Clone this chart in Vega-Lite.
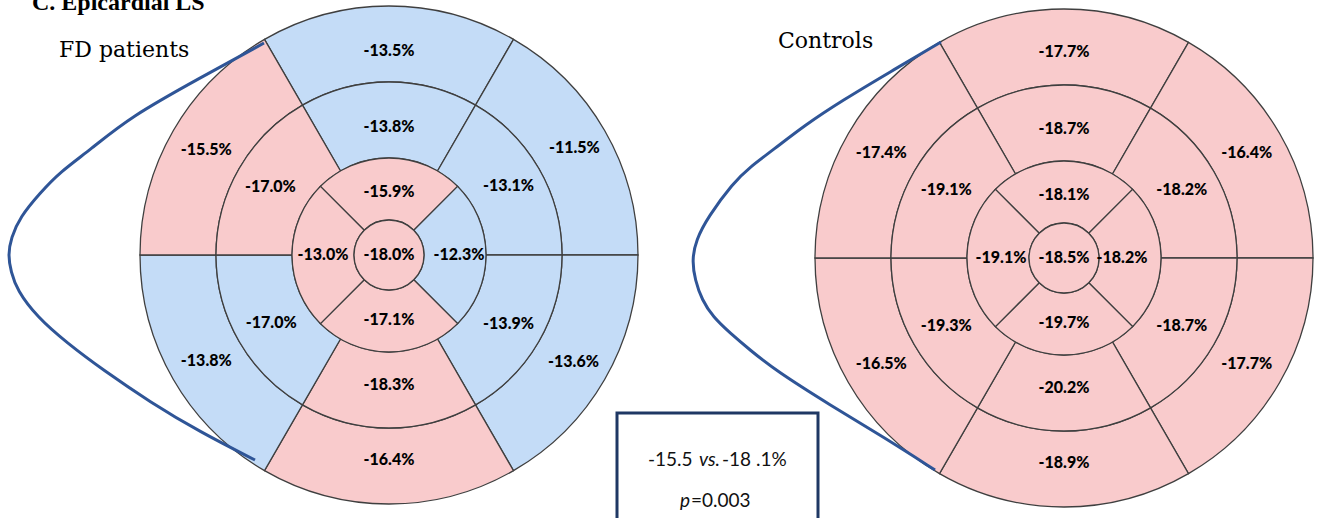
{
  "$schema": "https://vega.github.io/schema/vega-lite/v6.json",
  "width": 1322,
  "height": 518,
  "autosize": {"type": "fit", "contains": "padding"},
  "padding": 0,
  "background": "white",
  "config": {"view": {"stroke": null}},
  "datasets": {
    "seg": [
      {"chart": "FD", "cx": 389, "cy": 255, "t1": -30, "t2": 30, "tm": 0, "r1": 173, "r2": 249, "rm": 204, "label": "-13.5%", "cat": "reduced"},
      {"chart": "FD", "cx": 389, "cy": 255, "t1": 30, "t2": 90, "tm": 60, "r1": 173, "r2": 249, "rm": 214, "label": "-11.5%", "cat": "reduced"},
      {"chart": "FD", "cx": 389, "cy": 255, "t1": 90, "t2": 150, "tm": 120, "r1": 173, "r2": 249, "rm": 213, "label": "-13.6%", "cat": "reduced"},
      {"chart": "FD", "cx": 389, "cy": 255, "t1": 150, "t2": 210, "tm": 180, "r1": 173, "r2": 249, "rm": 205, "label": "-16.4%", "cat": "normal"},
      {"chart": "FD", "cx": 389, "cy": 255, "t1": 210, "t2": 270, "tm": 240, "r1": 173, "r2": 249, "rm": 211, "label": "-13.8%", "cat": "reduced"},
      {"chart": "FD", "cx": 389, "cy": 255, "t1": 270, "t2": 330, "tm": 300, "r1": 173, "r2": 249, "rm": 211, "label": "-15.5%", "cat": "normal"},
      {"chart": "FD", "cx": 389, "cy": 255, "t1": -30, "t2": 30, "tm": 0, "r1": 97, "r2": 173, "rm": 128, "label": "-13.8%", "cat": "reduced"},
      {"chart": "FD", "cx": 389, "cy": 255, "t1": 30, "t2": 90, "tm": 60, "r1": 97, "r2": 173, "rm": 138, "label": "-13.1%", "cat": "reduced"},
      {"chart": "FD", "cx": 389, "cy": 255, "t1": 90, "t2": 150, "tm": 120, "r1": 97, "r2": 173, "rm": 138, "label": "-13.9%", "cat": "reduced"},
      {"chart": "FD", "cx": 389, "cy": 255, "t1": 150, "t2": 210, "tm": 180, "r1": 97, "r2": 173, "rm": 130, "label": "-18.3%", "cat": "normal"},
      {"chart": "FD", "cx": 389, "cy": 255, "t1": 210, "t2": 270, "tm": 240, "r1": 97, "r2": 173, "rm": 136, "label": "-17.0%", "cat": "reduced"},
      {"chart": "FD", "cx": 389, "cy": 255, "t1": 270, "t2": 330, "tm": 300, "r1": 97, "r2": 173, "rm": 137, "label": "-17.0%", "cat": "normal"},
      {"chart": "FD", "cx": 389, "cy": 255, "t1": -45, "t2": 45, "tm": 0, "r1": 35, "r2": 97, "rm": 63, "label": "-15.9%", "cat": "normal"},
      {"chart": "FD", "cx": 389, "cy": 255, "t1": 45, "t2": 135, "tm": 90, "r1": 35, "r2": 97, "rm": 70, "label": "-12.3%", "cat": "reduced"},
      {"chart": "FD", "cx": 389, "cy": 255, "t1": 135, "t2": 225, "tm": 180, "r1": 35, "r2": 97, "rm": 65, "label": "-17.1%", "cat": "normal"},
      {"chart": "FD", "cx": 389, "cy": 255, "t1": 225, "t2": 315, "tm": 270, "r1": 35, "r2": 97, "rm": 66, "label": "-13.0%", "cat": "normal"},
      {"chart": "FD", "cx": 389, "cy": 255, "t1": 0, "t2": 360, "tm": 0, "r1": 0, "r2": 35, "rm": 0, "label": "-18.0%", "cat": "normal"},
      {"chart": "Controls", "cx": 1064, "cy": 258, "t1": -30, "t2": 30, "tm": 0, "r1": 173, "r2": 249, "rm": 206, "label": "-17.7%", "cat": "normal"},
      {"chart": "Controls", "cx": 1064, "cy": 258, "t1": 30, "t2": 90, "tm": 60, "r1": 173, "r2": 249, "rm": 211, "label": "-16.4%", "cat": "normal"},
      {"chart": "Controls", "cx": 1064, "cy": 258, "t1": 90, "t2": 150, "tm": 120, "r1": 173, "r2": 249, "rm": 211, "label": "-17.7%", "cat": "normal"},
      {"chart": "Controls", "cx": 1064, "cy": 258, "t1": 150, "t2": 210, "tm": 180, "r1": 173, "r2": 249, "rm": 205, "label": "-18.9%", "cat": "normal"},
      {"chart": "Controls", "cx": 1064, "cy": 258, "t1": 210, "t2": 270, "tm": 240, "r1": 173, "r2": 249, "rm": 211, "label": "-16.5%", "cat": "normal"},
      {"chart": "Controls", "cx": 1064, "cy": 258, "t1": 270, "t2": 330, "tm": 300, "r1": 173, "r2": 249, "rm": 211, "label": "-17.4%", "cat": "normal"},
      {"chart": "Controls", "cx": 1064, "cy": 258, "t1": -30, "t2": 30, "tm": 0, "r1": 97, "r2": 173, "rm": 129, "label": "-18.7%", "cat": "normal"},
      {"chart": "Controls", "cx": 1064, "cy": 258, "t1": 30, "t2": 90, "tm": 60, "r1": 97, "r2": 173, "rm": 136, "label": "-18.2%", "cat": "normal"},
      {"chart": "Controls", "cx": 1064, "cy": 258, "t1": 90, "t2": 150, "tm": 120, "r1": 97, "r2": 173, "rm": 136, "label": "-18.7%", "cat": "normal"},
      {"chart": "Controls", "cx": 1064, "cy": 258, "t1": 150, "t2": 210, "tm": 180, "r1": 97, "r2": 173, "rm": 130, "label": "-20.2%", "cat": "normal"},
      {"chart": "Controls", "cx": 1064, "cy": 258, "t1": 210, "t2": 270, "tm": 240, "r1": 97, "r2": 173, "rm": 136, "label": "-19.3%", "cat": "normal"},
      {"chart": "Controls", "cx": 1064, "cy": 258, "t1": 270, "t2": 330, "tm": 300, "r1": 97, "r2": 173, "rm": 136, "label": "-19.1%", "cat": "normal"},
      {"chart": "Controls", "cx": 1064, "cy": 258, "t1": -45, "t2": 45, "tm": 0, "r1": 35, "r2": 97, "rm": 63, "label": "-18.1%", "cat": "normal"},
      {"chart": "Controls", "cx": 1064, "cy": 258, "t1": 45, "t2": 135, "tm": 90, "r1": 35, "r2": 97, "rm": 58, "label": "-18.2%", "cat": "normal"},
      {"chart": "Controls", "cx": 1064, "cy": 258, "t1": 135, "t2": 225, "tm": 180, "r1": 35, "r2": 97, "rm": 65, "label": "-19.7%", "cat": "normal"},
      {"chart": "Controls", "cx": 1064, "cy": 258, "t1": 225, "t2": 315, "tm": 270, "r1": 35, "r2": 97, "rm": 63, "label": "-19.1%", "cat": "normal"},
      {"chart": "Controls", "cx": 1064, "cy": 258, "t1": 0, "t2": 360, "tm": 0, "r1": 0, "r2": 35, "rm": 0, "label": "-18.5%", "cat": "normal"}
    ],
    "curve": [
      {"chart": "FD", "i": 0, "px": 264, "py": 43},
      {"chart": "FD", "i": 1, "px": 200, "py": 78},
      {"chart": "FD", "i": 2, "px": 130, "py": 117},
      {"chart": "FD", "i": 3, "px": 90, "py": 150},
      {"chart": "FD", "i": 4, "px": 60, "py": 172},
      {"chart": "FD", "i": 5, "px": 40, "py": 193},
      {"chart": "FD", "i": 6, "px": 20, "py": 217},
      {"chart": "FD", "i": 7, "px": 11, "py": 238},
      {"chart": "FD", "i": 8, "px": 8, "py": 255},
      {"chart": "FD", "i": 9, "px": 11, "py": 272},
      {"chart": "FD", "i": 10, "px": 17, "py": 290},
      {"chart": "FD", "i": 11, "px": 37, "py": 317},
      {"chart": "FD", "i": 12, "px": 67, "py": 343},
      {"chart": "FD", "i": 13, "px": 103, "py": 370},
      {"chart": "FD", "i": 14, "px": 150, "py": 402},
      {"chart": "FD", "i": 15, "px": 200, "py": 432},
      {"chart": "FD", "i": 16, "px": 255, "py": 460},
      {"chart": "Controls", "i": 0, "px": 941, "py": 42},
      {"chart": "Controls", "i": 1, "px": 890, "py": 72},
      {"chart": "Controls", "i": 2, "px": 843, "py": 100},
      {"chart": "Controls", "i": 3, "px": 805, "py": 125},
      {"chart": "Controls", "i": 4, "px": 773, "py": 150},
      {"chart": "Controls", "i": 5, "px": 750, "py": 167},
      {"chart": "Controls", "i": 6, "px": 733, "py": 183},
      {"chart": "Controls", "i": 7, "px": 708, "py": 217},
      {"chart": "Controls", "i": 8, "px": 696, "py": 240},
      {"chart": "Controls", "i": 9, "px": 692, "py": 260},
      {"chart": "Controls", "i": 10, "px": 695, "py": 280},
      {"chart": "Controls", "i": 11, "px": 702, "py": 300},
      {"chart": "Controls", "i": 12, "px": 713, "py": 317},
      {"chart": "Controls", "i": 13, "px": 730, "py": 333},
      {"chart": "Controls", "i": 14, "px": 750, "py": 350},
      {"chart": "Controls", "i": 15, "px": 775, "py": 370},
      {"chart": "Controls", "i": 16, "px": 830, "py": 405},
      {"chart": "Controls", "i": 17, "px": 885, "py": 438},
      {"chart": "Controls", "i": 18, "px": 935, "py": 470}
    ]
  },
  "layer": [
    {
      "data": {"name": "seg"},
      "mark": {"type": "arc", "stroke": "#3f3f3f", "strokeWidth": 1.3},
      "encoding": {
        "x": {"field": "cx", "type": "quantitative", "scale": {"domain": [0, 1322], "nice": false, "zero": false}, "axis": null},
        "y": {"field": "cy", "type": "quantitative", "scale": {"domain": [0, 518], "nice": false, "zero": false, "reverse": true}, "axis": null},
        "theta": {"field": "t1", "type": "quantitative", "stack": null, "scale": {"domain": [0, 360], "range": [0, 6.283185307179586], "nice": false, "zero": false}},
        "theta2": {"field": "t2"},
        "radius": {"field": "r1", "type": "quantitative", "stack": null, "scale": {"type": "linear", "domain": [0, 300], "range": [0, 300], "nice": false, "zero": true}},
        "radius2": {"field": "r2"},
        "color": {"field": "cat", "type": "nominal", "scale": {"domain": ["reduced", "normal"], "range": ["#C4DCF7", "#F9CBCC"]}, "legend": null}
      }
    },
    {
      "data": {"name": "seg"},
      "mark": {"type": "text", "font": "Lato", "fontWeight": 900, "fontSize": 16, "align": "center", "baseline": "middle", "color": "#000000"},
      "encoding": {
        "x": {"field": "cx", "type": "quantitative", "scale": {"domain": [0, 1322], "nice": false, "zero": false}, "axis": null},
        "y": {"field": "cy", "type": "quantitative", "scale": {"domain": [0, 518], "nice": false, "zero": false, "reverse": true}, "axis": null},
        "theta": {"field": "tm", "type": "quantitative", "stack": null, "scale": {"domain": [0, 360], "range": [0, 6.283185307179586], "nice": false, "zero": false}},
        "radius": {"field": "rm", "type": "quantitative", "stack": null, "scale": {"type": "linear", "domain": [0, 300], "range": [0, 300], "nice": false, "zero": true}},
        "text": {"field": "label", "type": "nominal"}
      }
    },
    {
      "data": {"name": "curve"},
      "mark": {"type": "line", "interpolate": "basis", "strokeWidth": 3, "color": "#2F5597"},
      "encoding": {
        "x": {"field": "px", "type": "quantitative", "scale": {"domain": [0, 1322], "nice": false, "zero": false}, "axis": null},
        "y": {"field": "py", "type": "quantitative", "scale": {"domain": [0, 518], "nice": false, "zero": false, "reverse": true}, "axis": null},
        "detail": {"field": "chart", "type": "nominal"},
        "order": {"field": "i", "type": "quantitative"}
      }
    },
    {
      "data": {"values": [{"x1": 617, "x2": 818, "y1": 413, "y2": 545}]},
      "mark": {"type": "rect", "fill": "white", "stroke": "#1F3864", "strokeWidth": 3, "clip": true},
      "encoding": {
        "x": {"field": "x1", "type": "quantitative", "scale": {"domain": [0, 1322], "nice": false, "zero": false}, "axis": null},
        "x2": {"field": "x2"},
        "y": {"field": "y1", "type": "quantitative", "scale": {"domain": [0, 518], "nice": false, "zero": false, "reverse": true}, "axis": null},
        "y2": {"field": "y2"}
      }
    },
    {
      "data": {"values": [{"t": "-15.5", "px": 648, "py": 466}, {"t": "-18 .1%", "px": 722, "py": 466}, {"t": "=0.003", "px": 691, "py": 507}]},
      "mark": {"type": "text", "font": "Lato", "fontSize": 19, "align": "left", "baseline": "alphabetic", "color": "#111111"},
      "encoding": {
        "x": {"field": "px", "type": "quantitative", "scale": {"domain": [0, 1322], "nice": false, "zero": false}, "axis": null},
        "y": {"field": "py", "type": "quantitative", "scale": {"domain": [0, 518], "nice": false, "zero": false, "reverse": true}, "axis": null},
        "text": {"field": "t", "type": "nominal"}
      }
    },
    {
      "data": {"values": [{"t": "vs.", "px": 699, "py": 466}, {"t": "p", "px": 680, "py": 507}]},
      "mark": {"type": "text", "font": "Lato", "fontStyle": "italic", "fontSize": 19, "align": "left", "baseline": "alphabetic", "color": "#111111"},
      "encoding": {
        "x": {"field": "px", "type": "quantitative", "scale": {"domain": [0, 1322], "nice": false, "zero": false}, "axis": null},
        "y": {"field": "py", "type": "quantitative", "scale": {"domain": [0, 518], "nice": false, "zero": false, "reverse": true}, "axis": null},
        "text": {"field": "t", "type": "nominal"}
      }
    },
    {
      "data": {"values": [{"t": "FD patients", "px": 59, "py": 57}, {"t": "Controls", "px": 778, "py": 48}]},
      "mark": {"type": "text", "font": "DejaVu Serif", "fontSize": 22, "align": "left", "baseline": "alphabetic", "color": "#000000"},
      "encoding": {
        "x": {"field": "px", "type": "quantitative", "scale": {"domain": [0, 1322], "nice": false, "zero": false}, "axis": null},
        "y": {"field": "py", "type": "quantitative", "scale": {"domain": [0, 518], "nice": false, "zero": false, "reverse": true}, "axis": null},
        "text": {"field": "t", "type": "nominal"}
      }
    },
    {
      "data": {"values": [{"t": "C. Epicardial LS", "px": 32, "py": 10}]},
      "mark": {"type": "text", "font": "Liberation Serif", "fontWeight": "bold", "fontSize": 24, "align": "left", "baseline": "alphabetic", "color": "#000000", "clip": true},
      "encoding": {
        "x": {"field": "px", "type": "quantitative", "scale": {"domain": [0, 1322], "nice": false, "zero": false}, "axis": null},
        "y": {"field": "py", "type": "quantitative", "scale": {"domain": [0, 518], "nice": false, "zero": false, "reverse": true}, "axis": null},
        "text": {"field": "t", "type": "nominal"}
      }
    }
  ]
}
